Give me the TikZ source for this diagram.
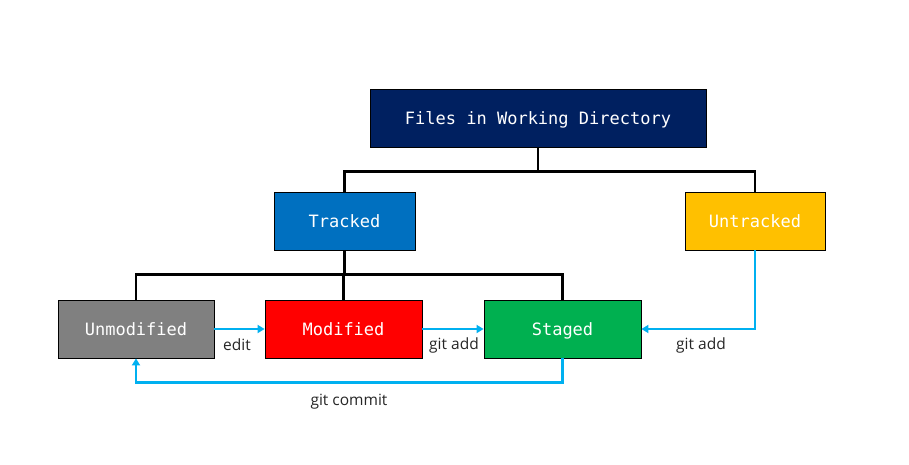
\documentclass[tikz,border=0pt]{standalone}
\usepackage{fontspec}
\setmainfont{Open Sans}
\newfontfamily\boxfont{DejaVu Sans Mono}
\usetikzlibrary{arrows.meta}
\definecolor{navy}{HTML}{002060}
\definecolor{trackblue}{HTML}{0070C0}
\definecolor{gold}{HTML}{FFC000}
\definecolor{staggreen}{HTML}{00B050}
\definecolor{flowblue}{HTML}{00B0F0}
\tikzset{
  state/.style={draw=black, line width=0.8pt, minimum height=58pt, text=white,
    font=\boxfont\fontsize{17}{19}\selectfont, inner sep=0pt, text depth=0pt},
  tree/.style={line width=2.8pt, black},
  flow/.style={line width=2.6pt, flowblue, -{Triangle[length=7pt,width=8pt]}},
  lbl/.style={font=\fontsize{15.5}{17}\selectfont, text=black!85}
}
\begin{document}
\begin{tikzpicture}[x=1pt, y=1pt, line join=miter]
	\useasboundingbox (0,0) rectangle (909,-465);
	% boxes
	\node[state, fill=navy, minimum width=336pt] (files) at (538,-118) {Files in Working Directory};
	\node[state, fill=trackblue, minimum width=141pt] (tracked) at (344.5,-221) {Tracked};
	\node[state, fill=gold, minimum width=140pt] (untracked) at (755,-221) {Untracked};
	\node[state, fill=black!50, minimum width=156pt] (unmod) at (136,-329) {Unmodified};
	\node[state, fill=red, minimum width=157pt] (mod) at (343.5,-329) {Modified};
	\node[state, fill=staggreen, minimum width=157pt] (staged) at (562.5,-329) {Staged};
	% tree
	\draw[tree] (files.south) -- ++(0,-24) coordinate (top);
	\draw[tree] (top) -| (tracked.north);
	\draw[tree] (top) -| (untracked.north);
	\draw[tree] (tracked.south) -- ++(0,-24) coordinate (mid);
	\draw[tree] (mid) -| (unmod.north);
	\draw[tree] (mid) -| (mod.north);
	\draw[tree] (mid) -| (staged.north);
	% flow
	\draw[flow] (unmod.east) -- (mod.west);
	\draw[flow] (mod.east) -- (staged.west);
	\draw[flow] (untracked.south) |- (staged.east);
	\draw[flow] (staged.south) -- ++(0,-24) -| (unmod.south);
	\node[lbl] (edit) at (237,-345) {edit};
	\node[lbl] (add1) at (454,-345) {git add};
	\node[lbl] (add2) at (701,-345) {git add};
	\node[lbl] (commit) at (349,-402) {git commit};
\end{tikzpicture}
\end{document}
